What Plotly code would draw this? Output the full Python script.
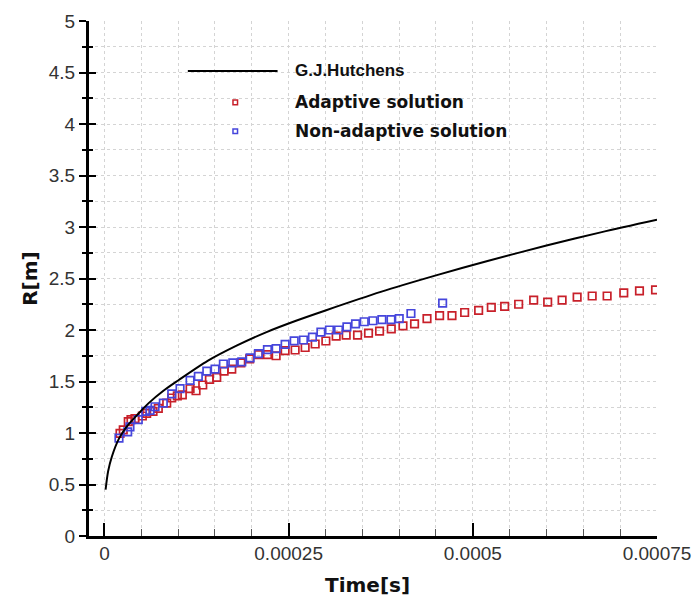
import plotly.graph_objects as go

# Analytical solution (G.J.Hutchens), time in s, radius in m
hut_t = [0.15e-5, 0.5e-5, 1.0e-5, 2.0e-5, 3.0e-5, 4.5e-5, 6.0e-5, 8.0e-5, 10.0e-5, 14.0e-5,
         18.0e-5, 22.0e-5, 26.0e-5, 30.0e-5, 37.5e-5, 45.0e-5, 52.0e-5, 60.0e-5, 67.5e-5, 75.0e-5]
hut_r = [0.45, 0.63, 0.77, 0.95, 1.06, 1.18, 1.29, 1.41, 1.51, 1.70,
         1.85, 1.98, 2.09, 2.19, 2.37, 2.53, 2.67, 2.82, 2.95, 3.07]

# Adaptive solution
ad_t = [2.11e-5, 2.55e-5, 3.23e-5, 3.60e-5, 4.14e-5, 5.14e-5, 5.73e-5, 6.59e-5, 7.31e-5, 8.45e-5,
        9.13e-5, 9.89e-5, 10.57e-5, 11.62e-5, 12.43e-5, 13.34e-5, 14.24e-5, 15.24e-5, 16.24e-5, 17.28e-5,
        18.51e-5, 19.70e-5, 20.90e-5, 22.12e-5, 23.30e-5, 24.52e-5, 25.88e-5, 27.24e-5, 28.60e-5, 30.05e-5,
        31.45e-5, 32.81e-5, 34.35e-5, 35.84e-5, 37.34e-5, 38.93e-5, 40.52e-5, 42.09e-5, 43.78e-5, 45.49e-5,
        47.17e-5, 48.89e-5, 50.79e-5, 52.51e-5, 54.32e-5, 56.22e-5, 58.26e-5, 60.16e-5, 62.12e-5, 64.16e-5,
        66.20e-5, 68.23e-5, 70.49e-5, 72.62e-5, 74.80e-5]
ad_r = [0.997, 1.03, 1.11, 1.13, 1.14, 1.165, 1.19, 1.21, 1.24, 1.29,
        1.34, 1.36, 1.37, 1.43, 1.41, 1.466, 1.52, 1.54, 1.60, 1.62,
        1.68, 1.72, 1.76, 1.76, 1.75, 1.80, 1.806, 1.83, 1.864, 1.893,
        1.94, 1.95, 1.95, 1.97, 1.99, 2.01, 2.04, 2.06, 2.11, 2.14,
        2.14, 2.17, 2.19, 2.22, 2.23, 2.25, 2.29, 2.27, 2.29, 2.32,
        2.33, 2.33, 2.36, 2.38, 2.39]

# Non-adaptive solution
na_t = [1.97e-5, 3.15e-5, 3.46e-5, 4.59e-5, 5.60e-5, 6.18e-5, 6.86e-5, 7.99e-5, 9.13e-5, 10.26e-5,
        11.62e-5, 12.74e-5, 13.89e-5, 15.01e-5, 16.14e-5, 17.42e-5, 18.64e-5, 19.77e-5, 20.90e-5, 22.12e-5,
        23.30e-5, 24.52e-5, 25.75e-5, 27.01e-5, 28.23e-5, 29.38e-5, 30.54e-5, 31.77e-5, 32.91e-5, 34.08e-5,
        35.26e-5, 36.44e-5, 37.66e-5, 38.89e-5, 40.01e-5, 41.60e-5, 45.90e-5]
na_r = [0.95, 1.01, 1.06, 1.13, 1.21, 1.22, 1.255, 1.29, 1.38, 1.43,
        1.51, 1.55, 1.60, 1.62, 1.67, 1.68, 1.69, 1.73, 1.77, 1.81,
        1.82, 1.86, 1.895, 1.903, 1.93, 1.98, 2.0, 2.0, 2.03, 2.06,
        2.08, 2.09, 2.10, 2.10, 2.11, 2.16, 2.26]

x_tickvals = [0, 0.00025, 0.0005, 0.00075]
x_ticktext = ["0", "0.00025", "0.0005", "0.00075"]

legend_names = ["G.J.Hutchens", "Adaptive solution", "Non-adaptive solution"]

RED = "#c8202a"
BLUE = "#4646dc"
GRID = "#d4d4d4"
TICKFONT = dict(family="Liberation Sans, Arial, sans-serif", size=19, color="#333333")

fig = go.Figure()
fig.add_trace(go.Scatter(x=hut_t, y=hut_r, mode="lines", name=legend_names[0],
                         line=dict(color="black", width=2, shape="spline", smoothing=0.8),
                         yaxis="y2", showlegend=False))
fig.add_trace(go.Scatter(x=ad_t, y=ad_r, mode="markers", name=legend_names[1],
                         marker=dict(symbol="square-open", size=7.5, color=RED, line=dict(width=1.7)),
                         showlegend=False))
fig.add_trace(go.Scatter(x=na_t, y=na_r, mode="markers", name=legend_names[2],
                         marker=dict(symbol="square-open", size=7.5, color=BLUE, line=dict(width=1.7)),
                         showlegend=False))

xrange = [-0.000021, 0.00075]
yrange = [0, 5]

fig.update_layout(
    width=693, height=596,
    margin=dict(l=89, r=36, t=21, b=60, autoexpand=False),
    plot_bgcolor="white", paper_bgcolor="white",
    showlegend=False,
    xaxis=dict(
        range=xrange, showline=True, linecolor="black", linewidth=3, automargin=False,
        tickmode="array", tickvals=x_tickvals, ticktext=x_ticktext,
        ticks="inside", ticklen=13, tickwidth=2, tickcolor="black",
        tickfont=TICKFONT, ticklabelstandoff=-2,
        showgrid=True, gridcolor=GRID, griddash="dot", gridwidth=1,
        zeroline=False,
        minor=dict(dtick=0.00005, tick0=0, ticks="inside", ticklen=7, tickwidth=1.2,
                   tickcolor="#555555", showgrid=True, gridcolor=GRID, griddash="dot", gridwidth=1),
    ),
    yaxis=dict(
        range=yrange, showline=True, linecolor="black", linewidth=3, automargin=False,
        dtick=0.5, tick0=0,
        ticks="outside", ticklen=7, tickwidth=2, tickcolor="black",
        tickfont=TICKFONT, ticklabelstandoff=0,
        showgrid=True, gridcolor=GRID, griddash="dot", gridwidth=1,
        zeroline=False,
        minor=dict(dtick=0.25, tick0=0, ticks="outside", ticklen=4, tickwidth=1.5,
                   tickcolor="black", showgrid=True, gridcolor=GRID, griddash="dot", gridwidth=1),
    ),
    yaxis2=dict(
        range=yrange, overlaying="y", side="left", anchor="x", automargin=False,
        dtick=0.5, tick0=0, ticks="inside", ticklen=7, tickwidth=2, tickcolor="black",
        showticklabels=False, showgrid=False, showline=False, zeroline=False,
        minor=dict(dtick=0.25, tick0=0, ticks="inside", ticklen=4, tickwidth=1.5, tickcolor="black"),
    ),
)

# Axis titles
fig.add_annotation(text="<b>Time[s]</b>", xref="paper", yref="paper", x=0.49, y=-0.095,
                   xanchor="center", yanchor="middle", showarrow=False,
                   font=dict(family="DejaVu Sans", size=20, color="#111111"))
fig.add_annotation(text="<b>R[m]</b>", xref="paper", yref="paper", x=-0.105, y=0.5,
                   xanchor="center", yanchor="middle", showarrow=False, textangle=-90,
                   font=dict(family="DejaVu Sans", size=20, color="#111111"))

# Legend drawn manually
fig.add_shape(type="line", xref="paper", yref="paper", x0=0.174, x1=0.332, y0=0.903, y1=0.903,
              line=dict(color="black", width=2))
fig.add_annotation(text="<b>" + legend_names[0] + "</b>", xref="paper", yref="paper", x=0.36, y=0.903,
                   xanchor="left", yanchor="middle", showarrow=False,
                   font=dict(family="Liberation Sans, Arial", size=17, color="#111111"))
for name, col, yy in [(legend_names[1], RED, 0.842), (legend_names[2], BLUE, 0.786)]:
    fig.add_shape(type="rect", xref="paper", yref="paper", x0=0.2535, x1=0.2615, y0=yy - 0.0045, y1=yy + 0.0045,
                  line=dict(color=col, width=1.5))
    fig.add_annotation(text="<b>" + name + "</b>", xref="paper", yref="paper", x=0.36, y=yy,
                       xanchor="left", yanchor="middle", showarrow=False,
                       font=dict(family="DejaVu Sans", size=17, color="#111111"))

fig.write_html("out.html", config={"displayModeBar": False},
               post_script="document.body.style.margin='0';document.body.style.overflow='hidden';")
